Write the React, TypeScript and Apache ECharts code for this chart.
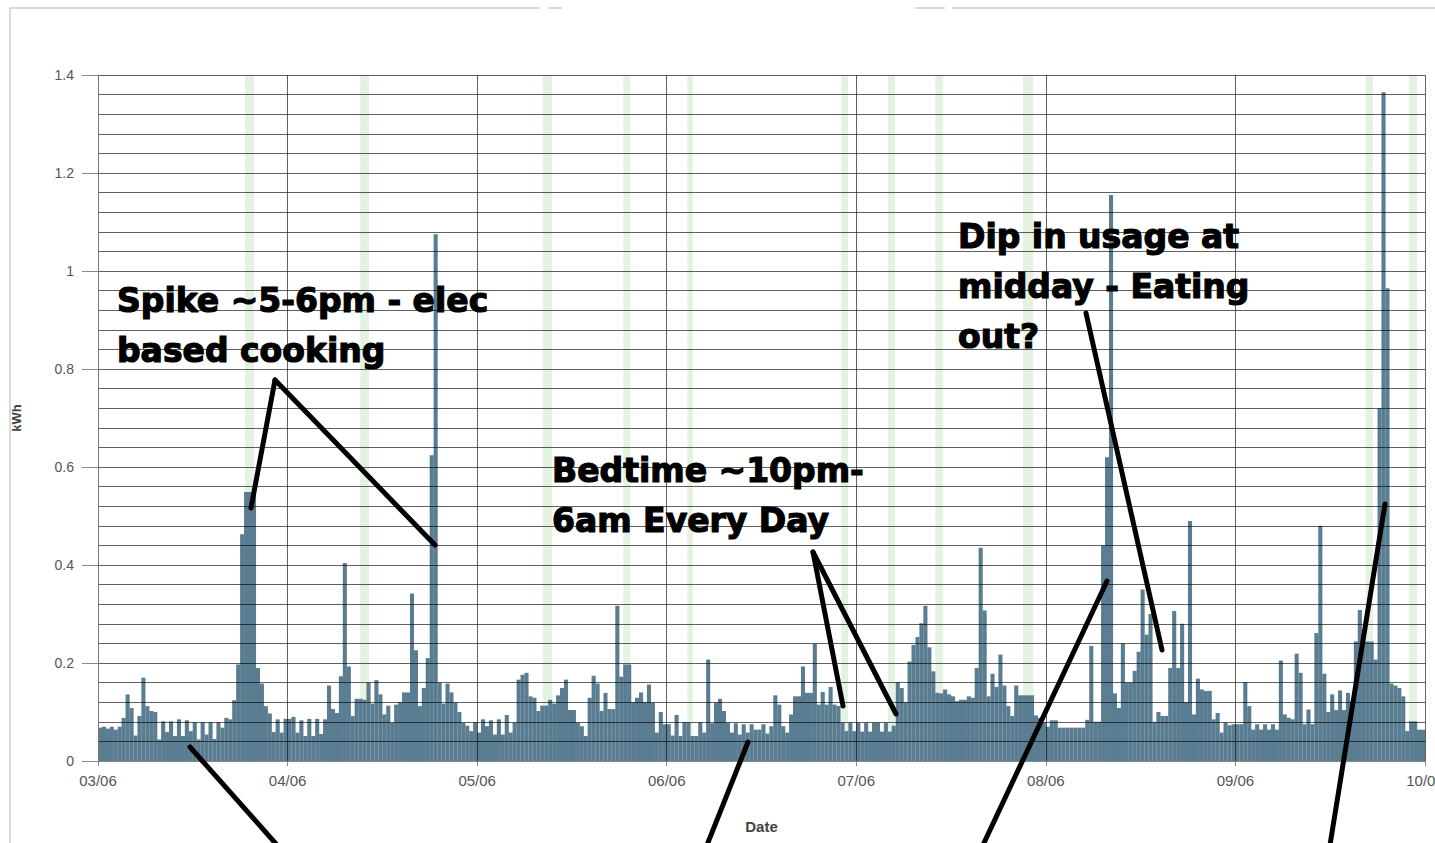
import React, { useEffect, useRef } from "react";
import * as echarts from "echarts";

const dateLabels = ["03/06", "04/06", "05/06", "06/06", "07/06", "08/06", "09/06", "10/06"];

// half-hourly kWh readings, 48 per day
const day1 = [.068,.07,.066,.07,.064,.07,.088,.136,.108,.052,.092,.17,.112,.102,.1,.044,.081,.059,.081,.051,.085,.051,.083,.061,.079,.044,.079,.054,.079,.045,.079,.068,.088,.085,.124,.197,.463,.549,.549,.545,.19,.158,.112,.097,.059,.085,.058,.086];
const day2 = [.086,.09,.058,.083,.051,.086,.051,.086,.055,.085,.154,.106,.098,.173,.404,.193,.092,.127,.127,.125,.16,.117,.165,.136,.095,.113,.078,.115,.12,.14,.14,.342,.226,.112,.149,.21,.624,1.075,.16,.117,.158,.14,.119,.1,.078,.072,.061,.079];
const day3 = [.058,.085,.071,.083,.054,.085,.054,.094,.058,.078,.166,.176,.18,.132,.129,.102,.113,.113,.125,.117,.134,.149,.166,.104,.104,.078,.071,.051,.129,.174,.158,.102,.139,.106,.106,.317,.172,.197,.197,.12,.129,.14,.12,.156,.119,.058,.1,.075];
const day4 = [.075,.052,.094,.051,.079,.079,.051,.051,.079,.058,.207,.077,.119,.127,.102,.078,.058,.077,.054,.075,.058,.075,.064,.064,.075,.056,.071,.134,.115,.071,.058,.095,.132,.132,.193,.139,.139,.239,.115,.141,.115,.151,.115,.112,.078,.061,.078,.061];
const day5 = [.078,.06,.078,.06,.078,.078,.06,.078,.06,.072,.161,.149,.12,.203,.237,.253,.281,.317,.232,.183,.139,.138,.146,.136,.132,.122,.125,.125,.132,.129,.19,.435,.307,.132,.178,.151,.217,.154,.112,.092,.154,.134,.134,.134,.134,.093,.088,.079];
const day6 = [.07,.083,.083,.068,.068,.068,.068,.068,.068,.068,.084,.235,.08,.08,.44,.62,1.155,.138,.108,.24,.16,.16,.184,.223,.35,.258,.3,.08,.1,.092,.092,.19,.306,.19,.28,.12,.49,.095,.168,.146,.143,.143,.085,.098,.058,.078,.073,.075];
const day7 = [.075,.075,.161,.112,.064,.075,.064,.075,.064,.075,.064,.205,.095,.088,.085,.219,.18,.075,.105,.075,.261,.48,.178,.1,.136,.104,.144,.104,.139,.122,.244,.308,.244,.244,.244,.207,.72,1.365,.965,.158,.154,.149,.132,.061,.081,.081,.064,.064];

// highlighted periods, in hours from the start
const highlightHours = [[18.6, 19.75], [33.2, 34.3], [56.3, 57.5], [66.5, 67.4], [74.6, 75.3], [94.1, 94.95], [100.0, 100.9], [106.0, 107.0], [117.1, 118.4], [160.5, 161.4], [166.0, 167.0]];

const notes = [
  { text: "Spike ~5-6pm - elec\nbased cooking", x: 117, y: 275 },
  { text: "Bedtime ~10pm-\n6am Every Day", x: 552, y: 445 },
  { text: "Dip in usage at\nmidday - Eating\nout?", x: 958, y: 211 },
];

const pointers = [
  [275, 380, 251, 508],
  [275, 380, 435, 545],
  [190, 747, 277, 845],
  [748, 742, 707, 845],
  [813, 552, 843, 706],
  [813, 552, 896, 714],
  [1107, 581, 983, 845],
  [1086, 313, 1162, 650],
  [1385, 504, 1330, 845],
];

export default function App() {
  const ref = useRef<HTMLDivElement>(null);
  useEffect(() => {
    if (!ref.current) return;
    const chart = echarts.init(ref.current, null, { renderer: "svg" });
    const values = [...day1, ...day2, ...day3, ...day4, ...day5, ...day6, ...day7];
    const data = values.map((v, i) => [i * 0.5 + 0.25, v]);
    const gridColor = "rgba(0,0,0,0.62)";
    const graphics: any[] = [
      { type: "polyline", shape: { points: [[10, 843], [10, 8], [540, 8]] }, style: { stroke: "#cfcfcf", fill: null, lineWidth: 1.5 } },
      { type: "line", shape: { x1: 548, y1: 8, x2: 562, y2: 8 }, style: { stroke: "#cfcfcf", lineWidth: 1.5 } },
      { type: "line", shape: { x1: 915, y1: 8, x2: 945, y2: 8 }, style: { stroke: "#cfcfcf", lineWidth: 1.5 } },
      { type: "line", shape: { x1: 952, y1: 8, x2: 1435, y2: 8 }, style: { stroke: "#cfcfcf", lineWidth: 1.5 } },
    ];
    pointers.forEach(([x1, y1, x2, y2]) => {
      graphics.push({ type: "line", z: 100, shape: { x1, y1, x2, y2 }, style: { stroke: "#000", lineWidth: 5, lineCap: "round" } });
    });
    notes.forEach((n) => {
      graphics.push({
        type: "text", z: 100, x: n.x, y: n.y,
        style: { text: n.text, fill: "#000", fontFamily: "DejaVu Sans", fontWeight: "bold", fontSize: 33, lineHeight: 50, verticalAlign: "top", align: "left", stroke: "#000", lineWidth: 1.2 },
      });
    });
    chart.setOption({
      animation: false,
      backgroundColor: "#fff",
      grid: { left: 98, right: 10, top: 75, bottom: 82, outerBoundsMode: "none", containLabel: false },
      xAxis: {
        type: "value", min: 0, max: 168, interval: 24, z: 5,
        name: "Date", nameLocation: "middle", nameGap: 58,
        nameTextStyle: { fontFamily: "Liberation Sans", fontWeight: "bold", fontSize: 15, color: "#444" },
        axisLine: { show: true, lineStyle: { color: "#888" } },
        axisTick: { show: true, length: 5, lineStyle: { color: "#888" } },
        axisLabel: { margin: 12, fontFamily: "Liberation Sans", fontSize: 15, color: "#555", formatter: (v: number) => dateLabels[Math.round(v / 24)] },
        splitLine: { show: true, lineStyle: { color: gridColor, width: 1 } },
      },
      yAxis: {
        type: "value", min: 0, max: 1.4, interval: 0.2, z: 5, offset: 3,
        name: "kWh", nameLocation: "middle", nameGap: 72, nameRotate: 90,
        nameTextStyle: { fontFamily: "Liberation Sans", fontWeight: "bold", fontSize: 13, color: "#444" },
        axisLine: { show: true, lineStyle: { color: "#777" } },
        axisTick: { show: true, length: 16, lineStyle: { color: "#888" } },
        axisLabel: { margin: 21, fontFamily: "Liberation Sans", fontSize: 14, color: "#555", formatter: (v: number) => String(+v.toFixed(1)) },
        splitLine: { show: true, lineStyle: { color: gridColor, width: 1 } },
        minorTick: { show: false, splitNumber: 5 },
        minorSplitLine: { show: true, lineStyle: { color: gridColor, width: 1 } },
      },
      series: [
        {
          type: "bar", data, barWidth: 4.1, z: 2,
          itemStyle: { color: "#5a7d92" },
          silent: true,
        },
        {
          type: "line", data: [], z: 3, silent: true,
          markArea: {
            silent: true,
            itemStyle: { color: "rgba(120,190,110,0.2)" },
            data: highlightHours.map(([a, b]) => [{ xAxis: a }, { xAxis: b }]),
          },
        },
      ],
      graphic: graphics,
    });
    return () => chart.dispose();
  }, []);
  return <div ref={ref} style={{ position: "fixed", left: 0, top: 0, width: 1435, height: 843 }} />;
}
